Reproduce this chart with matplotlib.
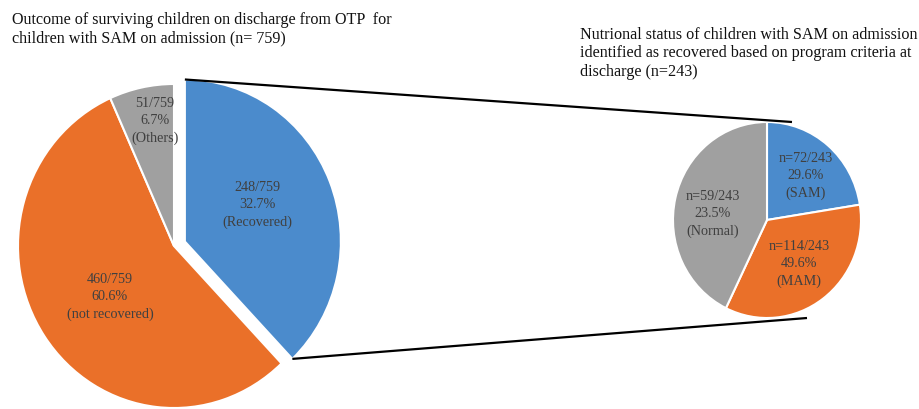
import numpy as np
import matplotlib.pyplot as plt

# left pie: outcome on discharge, clockwise from 12 o'clock
outcome_names = ['Recovered', 'not recovered', 'Others']
outcome_counts = [248, 460, 51]
outcome_pct = ['32.7%', '60.6%', '6.7%']
outcome_slices = [37.9, 55.4, 6.7]   # slice sizes as drawn in the figure

# right pie: nutritional status of the recovered group
status_names = ['SAM', 'MAM', 'Normal']
status_counts = [72, 114, 59]
status_pct = ['29.6%', '49.6%', '23.5%']
status_slices = [22.5, 34.7, 42.8]

colors = ['#4B8BCC', '#EA7029', '#A0A0A0']

plt.rcParams['font.family'] = ['Liberation Serif', 'DejaVu Serif']

W, H = 919, 410
fig = plt.figure(figsize=(W / 100, H / 100), dpi=100)


def pie_axes(cx, cy, rx, ry):
    # axes box in pixels, pie fills -1..1
    return fig.add_axes([(cx - rx) / W, 1 - (cy + ry) / H, 2 * rx / W, 2 * ry / H])


def draw_pie(ax, sizes, explode=None):
    wedges, _ = ax.pie(sizes, colors=colors, startangle=90, counterclock=False,
                       explode=explode,
                       wedgeprops=dict(edgecolor='white', linewidth=1.5))
    ax.set_xlim(-1, 1)
    ax.set_ylim(-1, 1)
    ax.set_aspect('auto')
    for w in wedges:
        w.set_clip_on(False)
    return wedges


ax1 = pie_axes(174, 247, 156, 162)
w1 = draw_pie(ax1, outcome_slices, explode=[0.075, 0, 0])

ax2 = pie_axes(767, 221, 94, 98)
w2 = draw_pie(ax2, status_slices)

# overlay in pixel coords for lines and text
ov = fig.add_axes([0, 0, 1, 1], zorder=5)
ov.set_xlim(0, W)
ov.set_ylim(H, 0)
ov.axis('off')
ov.patch.set_alpha(0)


def to_px(ax, pt):
    return ov.transData.inverted().transform(ax.transData.transform(pt))


blue = w1[0]
bx, by = blue.center
top = to_px(ax1, (bx + np.cos(np.radians(blue.theta2)), by + np.sin(np.radians(blue.theta2))))
bot = to_px(ax1, (bx + np.cos(np.radians(blue.theta1)), by + np.sin(np.radians(blue.theta1))))
ov.plot([top[0], 792], [top[1], 123], color='black', lw=1.6, solid_capstyle='butt')
ov.plot([bot[0], 807], [bot[1], 319], color='black', lw=1.6, solid_capstyle='butt')

lab_color = '#404040'
outcome_xy = [(257, 205), (110, 297), (155, 121)]
for name, n, p, (x, y) in zip(outcome_names, outcome_counts, outcome_pct, outcome_xy):
    ov.text(x, y, f'{n}/759\n{p}\n({name})', ha='center', va='center',
            fontsize=10.2, color=lab_color, linespacing=1.38)

status_xy = [(806, 176), (799, 264), (713, 214)]
for name, n, p, (x, y) in zip(status_names, status_counts, status_pct, status_xy):
    ov.text(x, y, f'n={n}/243\n{p}\n({name})', ha='center', va='center',
            fontsize=10.2, color=lab_color, linespacing=1.38)

ov.text(12, 12, 'Outcome of surviving children on discharge from OTP  for\n'
        'children with SAM on admission (n= 759)',
        ha='left', va='top', fontsize=11.6, color='#111111', linespacing=1.2)
ov.text(580, 27, 'Nutrional status of children with SAM on admission\n'
        'identified as recovered based on program criteria at\n'
        'discharge (n=243)',
        ha='left', va='top', fontsize=11.6, color='#111111', linespacing=1.2)

fig.savefig('out.png', dpi=100)
